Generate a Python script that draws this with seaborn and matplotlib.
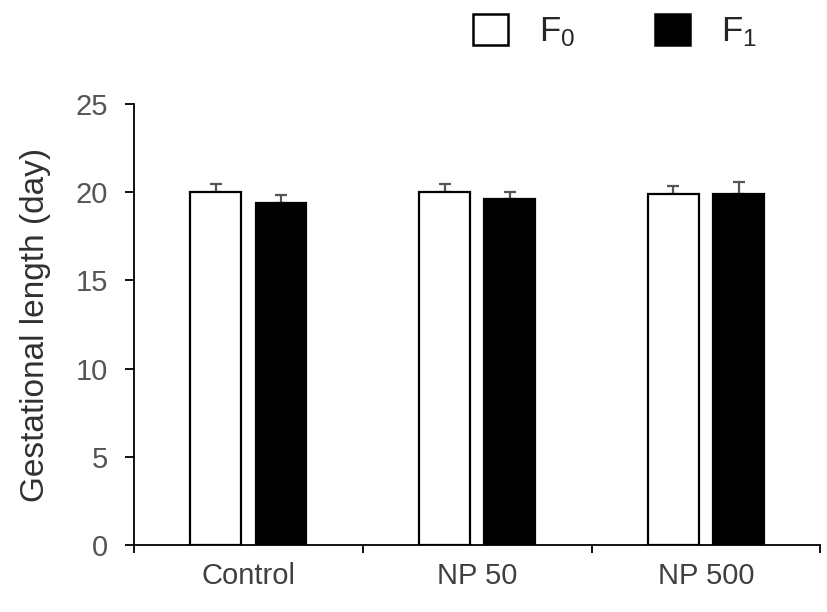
import numpy as np
import pandas as pd
import matplotlib
matplotlib.use("Agg")
import matplotlib.pyplot as plt
from matplotlib.patches import Patch
import seaborn as sns

# data
groups = ["Control", "NP 50", "NP 500"]
f0_mean = [20.0, 20.0, 19.9]
f0_err = [0.45, 0.45, 0.48]
f1_mean = [19.4, 19.6, 19.9]
f1_err = [0.45, 0.42, 0.70]
generations = ["F0", "F1"]

df = pd.DataFrame({
    "group": groups * 2,
    "gen": [generations[0]] * 3 + [generations[1]] * 3,
    "mean": f0_mean + f1_mean,
    "err": f0_err + f1_err,
})

sns.set_style("white")
plt.rcParams["font.family"] = ["Liberation Sans", "DejaVu Sans"]
plt.rcParams["mathtext.fontset"] = "custom"
plt.rcParams["mathtext.rm"] = "Liberation Sans"
plt.rcParams["mathtext.it"] = "Liberation Sans"

fig = plt.figure(figsize=(8.27, 6.12), dpi=100)
ax = fig.add_axes([0.162, 0.1095, 0.830, 0.7205])

sns.barplot(data=df, x="group", y="mean", hue="gen", order=groups,
            hue_order=generations, palette=["white", "black"],
            width=0.57, gap=0.22, errorbar=None, edgecolor="black",
            linewidth=1.6, legend=False, ax=ax)

# upward-only error bars on each bar
for patch, (_, row) in zip(ax.patches, df.iterrows()):
    cx = patch.get_x() + patch.get_width() / 2
    ax.errorbar(cx, row["mean"], yerr=[[0], [row["err"]]], fmt="none",
                ecolor="#555555", elinewidth=1.6, capsize=4.5, capthick=1.6,
                zorder=1)
for patch in ax.patches:
    patch.set_zorder(2)

ax.set_xlim(-0.5, 2.5)
ax.set_ylim(0, 25)
ax.set_yticks([0, 5, 10, 15, 20, 25])
ax.set_xticks(np.arange(-0.5, 3, 1), minor=True)
ax.tick_params(axis="x", which="major", length=0, pad=12, labelsize=21,
               labelcolor="#404040")
ax.tick_params(axis="x", which="minor", length=6, width=1.3, direction="out",
               color="black", bottom=True)
ax.tick_params(axis="y", length=6.5, width=1.3, direction="out", color="black",
               left=True, labelsize=21, labelcolor="#555555", pad=12)
ax.set_xlabel("")
ax.set_ylabel("Gestational length (day)", fontsize=24, color="#303030",
              labelpad=18)

sns.despine(ax=ax)
for side in ["left", "bottom"]:
    ax.spines[side].set_color("black")
    ax.spines[side].set_linewidth(1.3)

handles = [Patch(facecolor="white", edgecolor="black", linewidth=1.8),
           Patch(facecolor="black", edgecolor="black", linewidth=1.8)]
fig.legend(handles, ["F$_0$", "F$_1$"], loc="center",
           bbox_to_anchor=(0.744, 0.948), ncol=2, frameon=False,
           fontsize=25, handlelength=1.0, handleheight=1.0,
           handletextpad=0.9, columnspacing=2.3)

fig.savefig("out.png", dpi=100)
